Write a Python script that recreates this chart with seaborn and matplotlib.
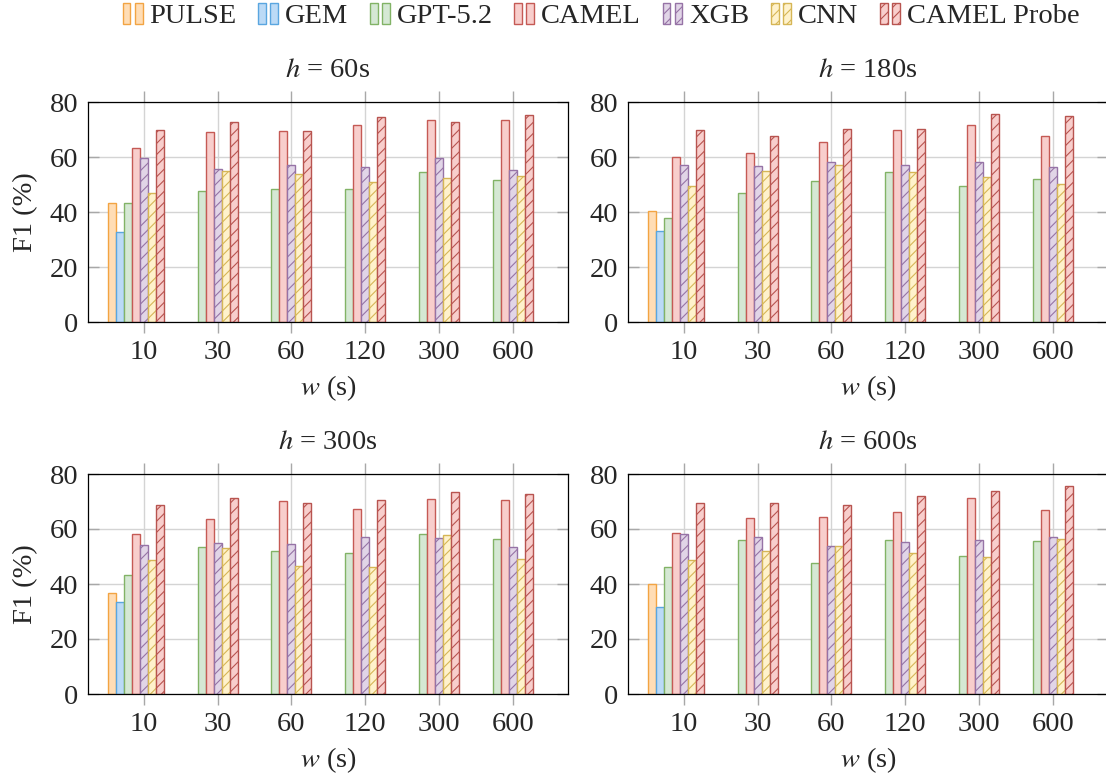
import matplotlib
matplotlib.use('Agg')
import matplotlib.pyplot as plt
from matplotlib.patches import Patch
from matplotlib.legend_handler import HandlerTuple
import numpy as np
import pandas as pd
import seaborn as sns

# ---- data ----
windows = ['10', '30', '60', '120', '300', '600']
horizons = [60, 180, 300, 600]
methods = ['PULSE', 'GEM', 'GPT-5.2', 'CAMEL', 'XGB', 'CNN', 'CAMEL Probe']

# PULSE / GEM only reported for w = 10, one value per horizon
pulse_f1 = [43.2, 40.5, 36.7, 40.0]
gem_f1 = [32.6, 33.0, 33.3, 31.5]

# one row per horizon (60, 180, 300, 600), one column per window
gpt_f1 = [[43.4, 47.6, 48.2, 48.4, 54.4, 51.5],
          [37.7, 46.8, 51.4, 54.5, 49.3, 52.1],
          [43.2, 53.5, 52.1, 51.2, 58.2, 56.4],
          [46.2, 56.1, 47.6, 55.9, 50.1, 55.5]]
camel_f1 = [[63.4, 69.0, 69.3, 71.5, 73.6, 73.3],
            [60.1, 61.3, 65.6, 69.7, 71.5, 67.6],
            [58.1, 63.6, 70.2, 67.3, 70.8, 70.5],
            [58.7, 64.0, 64.4, 66.1, 71.4, 67.0]]
xgb_f1 = [[59.8, 55.8, 57.0, 56.2, 59.8, 55.3],
          [57.0, 56.7, 58.3, 57.2, 58.2, 56.2],
          [54.2, 55.0, 54.4, 57.1, 56.8, 53.5],
          [58.1, 57.2, 53.9, 55.3, 56.1, 57.2]]
cnn_f1 = [[47.0, 54.8, 53.7, 50.9, 52.5, 53.2],
          [49.6, 54.8, 57.2, 54.5, 52.8, 50.3],
          [48.6, 53.1, 46.5, 46.3, 57.8, 49.1],
          [48.8, 52.1, 53.8, 51.4, 49.9, 56.4]]
probe_f1 = [[69.9, 72.7, 69.6, 74.4, 72.7, 75.4],
            [69.9, 67.5, 70.1, 70.1, 75.6, 74.8],
            [68.7, 71.2, 69.5, 70.4, 73.5, 72.7],
            [69.5, 69.6, 68.7, 72.1, 73.7, 75.5]]

fills = ['#FFDDB5', '#BBDAF6', '#D5E8D4', '#F8CECC', '#E1D5E7', '#FFF2CC', '#F8CECC']
edges = ['#F2A443', '#5AA6E0', '#82B366', '#C55A55', '#9673A6', '#D6B656', '#B85450']
hatches = ['', '', '', '', '///', '///', '///']

# two empty hue slots on the right reproduce the off-centre grouping
pads = ['_pad1', '_pad2']
hue_order = methods + pads
palette = dict(zip(hue_order, fills + ['white', 'white']))

rows = []
for i, h in enumerate(horizons):
    rows.append((h, '10', 'PULSE', pulse_f1[i]))
    rows.append((h, '10', 'GEM', gem_f1[i]))
    for j, w in enumerate(windows):
        rows.append((h, w, 'GPT-5.2', gpt_f1[i][j]))
        rows.append((h, w, 'CAMEL', camel_f1[i][j]))
        rows.append((h, w, 'XGB', xgb_f1[i][j]))
        rows.append((h, w, 'CNN', cnn_f1[i][j]))
        rows.append((h, w, 'CAMEL Probe', probe_f1[i][j]))
df = pd.DataFrame(rows, columns=['h', 'w', 'method', 'f1'])

# ---- style ----
sns.set_style('white')
plt.rcParams['font.family'] = ['Liberation Serif', 'DejaVu Serif']
plt.rcParams['mathtext.fontset'] = 'stix'
plt.rcParams['hatch.linewidth'] = 0.8
FS = 20.5

fig = plt.figure(figsize=(11.06, 7.76), dpi=100)
W, H = 1106, 776
boxes = [(88, 102), (628, 102), (88, 474), (628, 474)]
width_all = 0.975
bw = width_all / len(hue_order)

for idx, h in enumerate(horizons):
    x0, y0 = boxes[idx]
    ax = fig.add_axes([x0 / W, 1 - (y0 + 220) / H, 480 / W, 220 / H])
    sub = df[df['h'] == h]
    sns.barplot(data=sub, x='w', y='f1', hue='method', order=windows,
                hue_order=hue_order, palette=palette, width=width_all,
                errorbar=None, legend=False, saturation=1, ax=ax)

    for p in ax.patches:
        c = p.get_x() + p.get_width() / 2
        k = round(c)
        slot = int(round((c - k) / bw)) + 4
        if 0 <= slot < len(methods):
            p.set_facecolor(fills[slot])
            p.set_edgecolor(edges[slot])
            p.set_hatch(hatches[slot])
            p.set_linewidth(1.0)

    ax.set_xlim(-0.755, 5.745)
    ax.set_ylim(0, 80)
    ax.set_yticks([0, 20, 40, 60, 80])
    ax.set_axisbelow(True)
    ax.grid(True, color='#d4d4d4', lw=1.0)
    for s in ax.spines.values():
        s.set_color('black')
        s.set_linewidth(0.9)
    ax.tick_params(axis='x', direction='out', length=8, width=1, color='#a8a8a8',
                   top=True, bottom=True, labelsize=FS, pad=5)
    ax.tick_params(axis='y', direction='in', length=8, width=1, color='#a8a8a8',
                   left=True, right=True, labelsize=FS, pad=7)
    ax.set_title(rf'$h$ = {h}s', fontsize=FS, pad=18)
    ax.set_xlabel(r'$w$ (s)', fontsize=FS, labelpad=6)
    if idx % 2 == 0:
        ax.set_ylabel('F1 (%)', fontsize=FS, labelpad=8)
    else:
        ax.set_ylabel('')

# legend: two small bars per entry, like pgfplots' ybar legend
handles = []
for i in range(len(methods)):
    pch = Patch(facecolor=fills[i], edgecolor=edges[i], hatch=hatches[i], lw=1.0)
    handles.append((pch, pch))
fig.legend(handles, methods, handler_map={tuple: HandlerTuple(ndivide=None, pad=0.15)},
           loc='center', bbox_to_anchor=(601 / W, 1 - 16 / H), ncol=7, frameon=False,
           fontsize=FS, handlelength=0.7, handleheight=0.8, handletextpad=0.25,
           columnspacing=0.75, borderaxespad=0)

fig.savefig('out.png', dpi=100)
